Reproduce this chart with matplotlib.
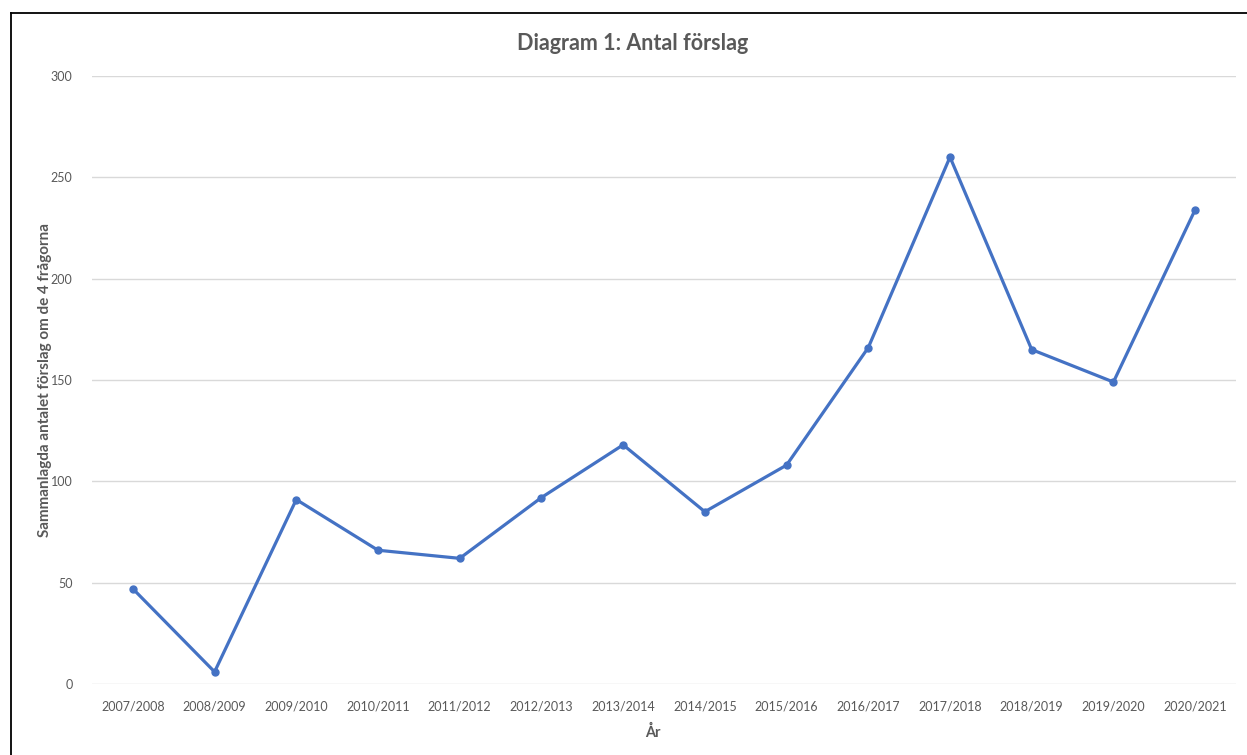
import matplotlib
matplotlib.use("Agg")
import matplotlib.pyplot as plt
from matplotlib.lines import Line2D

plt.rcParams['font.family'] = ['Lato', 'DejaVu Sans']

years = ["2007/2008", "2008/2009", "2009/2010", "2010/2011", "2011/2012",
         "2012/2013", "2013/2014", "2014/2015", "2015/2016", "2016/2017",
         "2017/2018", "2018/2019", "2019/2020", "2020/2021"]
values = [47, 6, 91, 66, 62, 92, 118, 85, 108, 166, 260, 165, 149, 234]
yticks = [0, 50, 100, 150, 200, 250, 300]

W, H = 1247, 755
fig = plt.figure(figsize=(W / 100, H / 100), dpi=100)
fig.patch.set_facecolor("white")

left, right, top, bottom = 92, 1236, 76, 684
ax = fig.add_axes([left / W, 1 - bottom / H, (right - left) / W, (bottom - top) / H])

x = list(range(len(years)))
ax.plot(x, values, color="#4472C4", linewidth=2.3, marker="o", markersize=5,
        markerfacecolor="#4472C4", markeredgecolor="#4472C4", solid_joinstyle="round", zorder=3)

ax.set_xlim(-0.5, len(years) - 0.5)
ax.set_ylim(0, 300)
ax.set_yticks(yticks)
ax.set_xticks(x)
ax.set_xticklabels(years)
ax.grid(axis="y", color="#d9d9d9", linewidth=1.0)
ax.set_axisbelow(True)
for s in ax.spines.values():
    s.set_visible(False)
ax.tick_params(axis="both", length=0, labelsize=9, colors="#595959")
ax.tick_params(axis="x", pad=12)
ax.tick_params(axis="y", pad=14)

ax.set_ylabel("Sammanlagda antalet förslag om de 4 frågorna", fontsize=11,
              fontweight="bold", color="#595959")
ax.yaxis.set_label_coords((45 - left) / (right - left), 0.5)
ax.set_xlabel("År", fontsize=10.5, fontweight="bold", color="#595959")
ax.xaxis.set_label_coords((653 - left) / (right - left), -(732 - bottom) / (bottom - top))
ax.xaxis.label.set_va("center")
ax.yaxis.label.set_va("center")

fig.text(633 / W, 1 - 43 / H, "Diagram 1: Antal förslag", ha="center", va="center",
         fontsize=15.5, fontweight="bold", color="#595959")

# frame lines (left and top border)
fig.add_artist(Line2D([10.5 / W, 10.5 / W], [0, 1 - 12.5 / H], color="black", linewidth=1.3,
                      transform=fig.transFigure))
fig.add_artist(Line2D([10.5 / W, 1], [1 - 12.5 / H, 1 - 12.5 / H], color="black", linewidth=1.3,
                      transform=fig.transFigure))

fig.savefig("out.png", dpi=100)
